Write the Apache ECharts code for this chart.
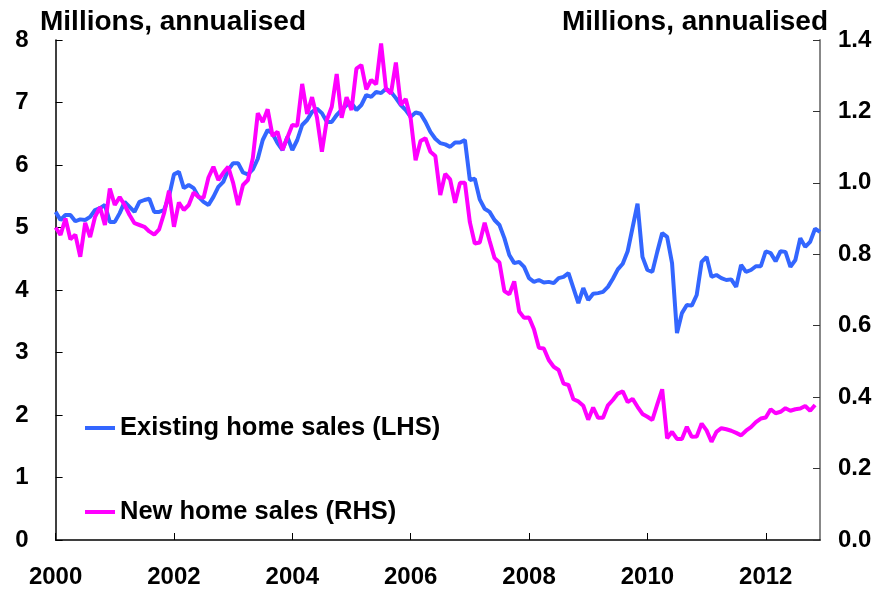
<!DOCTYPE html>
<html>
<head>
<meta charset="utf-8">
<script src="https://cdn.jsdelivr.net/npm/echarts@6/dist/echarts.min.js"></script>
<style>
  html, body { margin: 0; padding: 0; background: #fff; }
  #chart { width: 879px; height: 595px; }
</style>
</head>
<body>
<div id="chart"></div>
<script>
// years shown on the axis, one label every two years
var years = [2000, 2001, 2002, 2003, 2004, 2005, 2006, 2007, 2008, 2009, 2010, 2011, 2012];
var yearLabels = ["2000", "2002", "2004", "2006", "2008", "2010", "2012"];

// existing home sales, millions annualised (LHS), Jan 2000 - Dec 2012
var existingSales = [
  5.25, 5.12, 5.20, 5.20, 5.10, 5.13, 5.12, 5.17, 5.28, 5.31, 5.36, 5.09,
  5.09, 5.23, 5.41, 5.33, 5.25, 5.41, 5.44, 5.46, 5.25, 5.25, 5.28, 5.50,
  5.85, 5.89, 5.63, 5.68, 5.63, 5.49, 5.41, 5.36, 5.49, 5.65, 5.73, 5.92,
  6.03, 6.03, 5.88, 5.85, 5.93, 6.10, 6.40, 6.56, 6.50, 6.35, 6.24, 6.45,
  6.24, 6.40, 6.64, 6.72, 6.85, 6.90, 6.83, 6.69, 6.69, 6.80, 6.88, 6.96,
  6.99, 6.88, 6.96, 7.12, 7.09, 7.17, 7.15, 7.22, 7.17, 7.07, 6.96, 6.88,
  6.77, 6.84, 6.82, 6.69, 6.53, 6.42, 6.35, 6.33, 6.29, 6.36, 6.36, 6.40,
  5.76, 5.78, 5.45, 5.30, 5.25, 5.12, 5.04, 4.83, 4.56, 4.43, 4.45, 4.37,
  4.19, 4.13, 4.16, 4.12, 4.13, 4.11, 4.19, 4.21, 4.27, 4.03, 3.79, 4.03,
  3.84, 3.94, 3.95, 3.97, 4.05, 4.18, 4.33, 4.42, 4.62, 5.00, 5.38, 4.53,
  4.32, 4.29, 4.61, 4.91, 4.85, 4.43, 3.31, 3.63, 3.76, 3.75, 3.92, 4.45,
  4.53, 4.21, 4.24, 4.19, 4.16, 4.17, 4.05, 4.40, 4.29, 4.32, 4.38, 4.38,
  4.62, 4.59, 4.46, 4.62, 4.61, 4.37, 4.48, 4.83, 4.69, 4.77, 4.98, 4.93
];

// new home sales, millions annualised (RHS), Jan 2000 - Nov 2012
var newSales = [
  0.875, 0.854, 0.900, 0.842, 0.855, 0.793, 0.888, 0.848, 0.905, 0.932, 0.882, 0.984,
  0.938, 0.960, 0.938, 0.910, 0.887, 0.882, 0.877, 0.864, 0.855, 0.870, 0.915, 0.978,
  0.877, 0.945, 0.924, 0.938, 0.973, 0.960, 0.958, 1.015, 1.045, 1.008, 1.028, 1.045,
  1.000, 0.938, 0.994, 1.008, 1.070, 1.195, 1.170, 1.206, 1.131, 1.143, 1.092, 1.127,
  1.162, 1.160, 1.277, 1.193, 1.240, 1.183, 1.087, 1.176, 1.213, 1.305, 1.182, 1.240,
  1.204, 1.320, 1.330, 1.262, 1.288, 1.276, 1.390, 1.263, 1.250, 1.337, 1.218, 1.235,
  1.180, 1.063, 1.117, 1.125, 1.087, 1.075, 0.966, 1.025, 1.010, 0.944, 1.000, 1.000,
  0.890, 0.830, 0.833, 0.888, 0.838, 0.790, 0.777, 0.697, 0.688, 0.724, 0.640, 0.622,
  0.623, 0.590, 0.538, 0.536, 0.504, 0.485, 0.476, 0.438, 0.434, 0.394, 0.388, 0.376,
  0.337, 0.371, 0.342, 0.342, 0.377, 0.392, 0.410, 0.416, 0.386, 0.395, 0.373, 0.353,
  0.345, 0.336, 0.380, 0.422, 0.285, 0.303, 0.283, 0.283, 0.317, 0.289, 0.290, 0.326,
  0.307, 0.275, 0.303, 0.313, 0.310, 0.306, 0.300, 0.293, 0.306, 0.316, 0.330, 0.340,
  0.343, 0.366, 0.355, 0.359, 0.369, 0.362, 0.366, 0.368, 0.375, 0.362, 0.378, null
];

var months = [];
for (var y = 0; y < years.length; y++) {
  for (var m = 1; m <= 12; m++) {
    months.push(years[y] + "-" + (m < 10 ? "0" + m : m));
  }
}

var font = "Liberation Sans, Arial, Helvetica, sans-serif";

// only January of the labelled years gets a label and a tick
var isLabelMonth = function (idx, val) {
  var parts = val.split("-");
  return parts[1] === "01" && yearLabels.indexOf(parts[0]) >= 0;
};

var chart = echarts.init(document.getElementById("chart"), null, { renderer: "canvas" });

var option = {
  animation: false,
  backgroundColor: "#ffffff",
  textStyle: { fontFamily: font },
  grid: { left: 55.6, right: 59, top: 40, bottom: 55, containLabel: false },
  graphic: [
    {
      type: "text", left: 40, top: 8,
      style: { text: "Millions, annualised", fontFamily: font, fontSize: 28, fontWeight: "bold", fill: "#000" }
    },
    {
      type: "text", right: 51, top: 8,
      style: { text: "Millions, annualised", fontFamily: font, fontSize: 28, fontWeight: "bold", fill: "#000" }
    }
  ],
  legend: {
    orient: "vertical",
    left: 85,
    top: 415,
    padding: 0,
    itemGap: 58,
    itemWidth: 30,
    itemHeight: 4,
    icon: "rect",
    textStyle: { fontFamily: font, fontSize: 25.5, fontWeight: "bold", color: "#000" },
    data: ["Existing home sales (LHS)", "New home sales (RHS)"]
  },
  xAxis: {
    type: "category",
    data: months,
    boundaryGap: false,
    axisLine: { lineStyle: { color: "#000", width: 1.5 } },
    axisTick: { inside: true, length: 7, interval: isLabelMonth, lineStyle: { color: "#000" } },
    axisLabel: {
      interval: isLabelMonth,
      margin: 25,
      fontFamily: font, fontSize: 24, fontWeight: "bold", color: "#000",
      formatter: function (val) { return val.split("-")[0]; }
    },
    splitLine: { show: false }
  },
  yAxis: [
    {
      type: "value", min: 0, max: 8, interval: 1, position: "left",
      axisLine: { show: true, lineStyle: { color: "#000", width: 1.5 } },
      axisTick: { show: true, inside: true, length: 7, lineStyle: { color: "#000" } },
      axisLabel: { margin: 27, fontFamily: font, fontSize: 24, fontWeight: "bold", color: "#000" },
      splitLine: { show: false }
    },
    {
      type: "value", min: 0, max: 1.4, interval: 0.2, position: "right",
      axisLine: { show: true, lineStyle: { color: "#888", width: 2 } },
      axisTick: { show: true, inside: true, length: 7, lineStyle: { color: "#333" } },
      axisLabel: {
        margin: 18, fontFamily: font, fontSize: 24, fontWeight: "bold", color: "#000",
        formatter: function (v) { return v.toFixed(1); }
      },
      splitLine: { show: false }
    }
  ],
  series: [
    {
      name: "Existing home sales (LHS)",
      type: "line", yAxisIndex: 0,
      data: existingSales,
      showSymbol: false, symbol: "none",
      color: "#3366ff",
      lineStyle: { width: 4, color: "#3366ff" }
    },
    {
      name: "New home sales (RHS)",
      type: "line", yAxisIndex: 1,
      data: newSales,
      showSymbol: false, symbol: "none",
      color: "#ff00ff",
      lineStyle: { width: 4, color: "#ff00ff" }
    }
  ]
};

chart.setOption(option);
</script>
</body>
</html>
